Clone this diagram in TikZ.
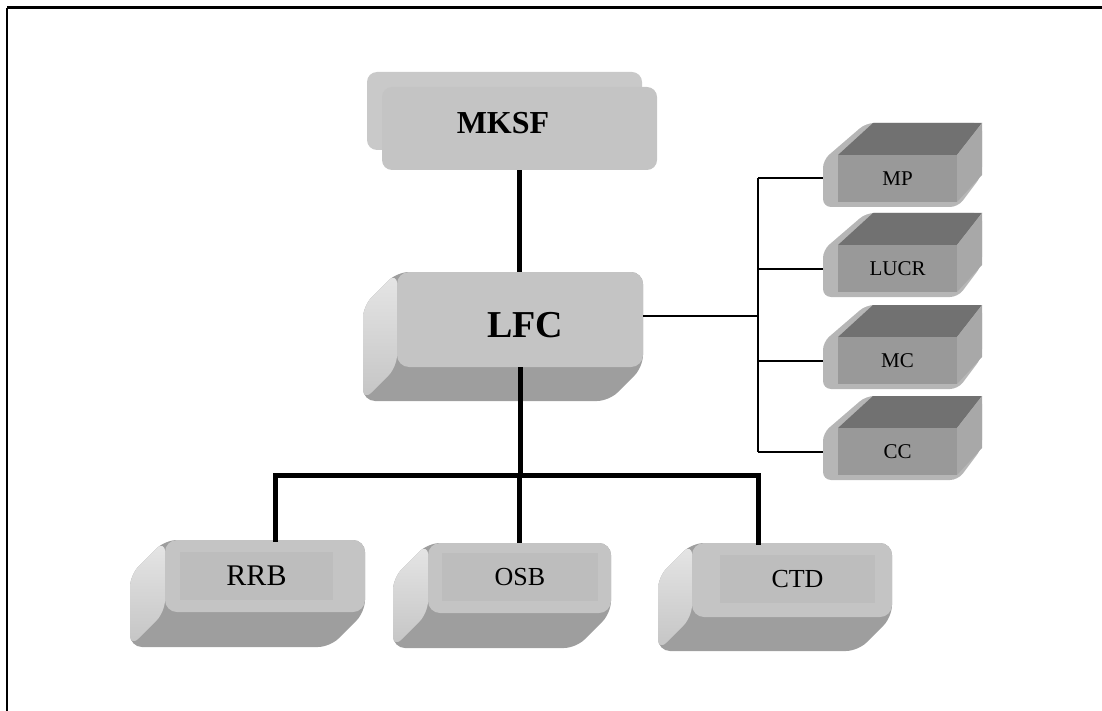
\documentclass[tikz,border=0pt]{standalone}
\usepackage{fontspec}
\setmainfont{Liberation Serif}
\usetikzlibrary{positioning,fit}

\definecolor{slabFront}{HTML}{C4C4C4}
\definecolor{slabInner}{HTML}{BDBDBD}
\definecolor{slabLight}{HTML}{E6E6E6}
\definecolor{slabMid}{HTML}{C4C4C4}
\definecolor{slabBottom}{HTML}{9E9E9E}
\definecolor{cubeFrame}{HTML}{B6B6B6}
\definecolor{cubeTop}{HTML}{717171}
\definecolor{cubeSide}{HTML}{A8A8A8}
\definecolor{cubeFront}{HTML}{999999}
\definecolor{stackBack}{HTML}{C9C9C9}

% slab: name, x1, y1, x2, y2, depth
\newcommand{\slabbox}[6]{%
  \fill[slabBottom, rounded corners=6pt] (#2,#3) -- (#2-#6,#3+#6) -- (#2-#6,#5+#6) -- (#4-#6,#5+#6) -- (#4,#5) -- (#4,#3) -- cycle;
  \shade[top color=slabLight, bottom color=slabMid, rounded corners=6pt] (#2,#3) -- (#2-#6,#3+#6) -- (#2-#6,#5+#6) -- (#2,#5) -- cycle;
  \node[slabface, fit={(#2,#3) (#4,#5)}] (#1) {};
}
% cube: name, top of front face, label
\newcommand{\cubebox}[3]{%
  \fill[cubeFrame, rounded corners=4pt] (823,#2+52) -- (823,#2+5) -- (866,#2-32) -- (982,#2-32) -- (982,#2+20) -- (958,#2+52) -- cycle;
  \fill[cubeTop] (838,#2) -- (873,#2-32) -- (982,#2-32) -- (957,#2) -- cycle;
  \fill[cubeSide] (957,#2) -- (982,#2-32) -- (982,#2+20) -- (957,#2+47) -- cycle;
  \node[inner sep=0pt, fit={(823,#2-5) (960,#2+52)}] (#1) {};
  \node[cubeface, fit={(838,#2) (957,#2+47)}, label={[cubelabel, name=#1-label]center:#3}] (#1-face) {};
}

\begin{document}
\begin{tikzpicture}[x=0.5pt, y=-0.5pt,
  thickline/.style={line width=2.5pt},
  thinline/.style={line width=1pt},
  slabface/.style={rounded corners=6pt, fill=slabFront, inner sep=0pt},
  slabinner/.style={fill=slabInner, inner sep=0pt},
  cubeface/.style={fill=cubeFront, inner sep=0pt},
  cubelabel/.style={font=\fontsize{10.5}{12}\selectfont},
  stack/.style={rounded corners=5pt, inner sep=0pt}]
  \useasboundingbox (0,0) rectangle (1102,711);

  % frame
  \draw[line width=1.5pt] (7,8) -- (1102,8);
  \draw[line width=1pt] (7,8) -- (7,711);

  % top unit
  \node[stack, fill=stackBack, fit={(367,72) (642,150)}] (mksf-back) {};
  \node[stack, fill=slabFront, fit={(382,87) (657,170)}] (mksf) {};
  \node[font=\fontsize{16}{16}\selectfont\bfseries] (mksf-label) at (503,123) {MKSF};

  % centre unit
  \slabbox{lfc}{397}{272}{643}{367}{34}
  \node[font=\fontsize{19}{19}\selectfont\bfseries] (lfc-label) at ([shift={(5,6)}]lfc.center) {LFC};

  % lower units
  \slabbox{rrb}{165}{540}{365}{612}{35}
  \node[slabinner, fit={(180,552) (333,600)}] (rrb-in) {};
  \node[font=\fontsize{15}{15}\selectfont] (rrb-label) at (rrb-in.center) {RRB};
  \slabbox{osb}{428}{543}{611}{613}{35}
  \node[slabinner, fit={(442,553) (598,601)}] (osb-in) {};
  \node[font=\fontsize{13}{13}\selectfont] (osb-label) at (osb-in.center) {OSB};
  \slabbox{ctd}{692}{543}{892}{617}{34}
  \node[slabinner, fit={(720,555) (875,603)}] (ctd-in) {};
  \node[font=\fontsize{13}{13}\selectfont] (ctd-label) at (ctd-in.center) {CTD};

  % right units
  \cubebox{mp}{155}{MP}
  \cubebox{lucr}{245}{LUCR}
  \cubebox{mc}{337}{MC}
  \cubebox{cc}{428}{CC}

  % links
  \coordinate (forkL) at (275,475);
  \coordinate (forkR) at (758,475);
  \coordinate (hub) at (758,316);
  \draw[thickline] (mksf.south) -- (mksf.south |- lfc.north);
  \draw[thickline] (lfc.south) -- (lfc.south |- forkL);
  \draw[thickline, line cap=rect] (forkL |- rrb.north) -- (forkL) -- (forkR) -- (forkR |- ctd.north);
  \draw[thickline] (osb.north) -- (osb.north |- forkL);
  \draw[thinline] (lfc.east |- hub) -- (hub);
  \draw[thinline] (hub |- mp) -- (hub |- cc);
  \foreach \u in {mp,lucr,mc,cc}
    \draw[thinline] (hub |- \u) -- (\u.west);
\end{tikzpicture}
\end{document}
